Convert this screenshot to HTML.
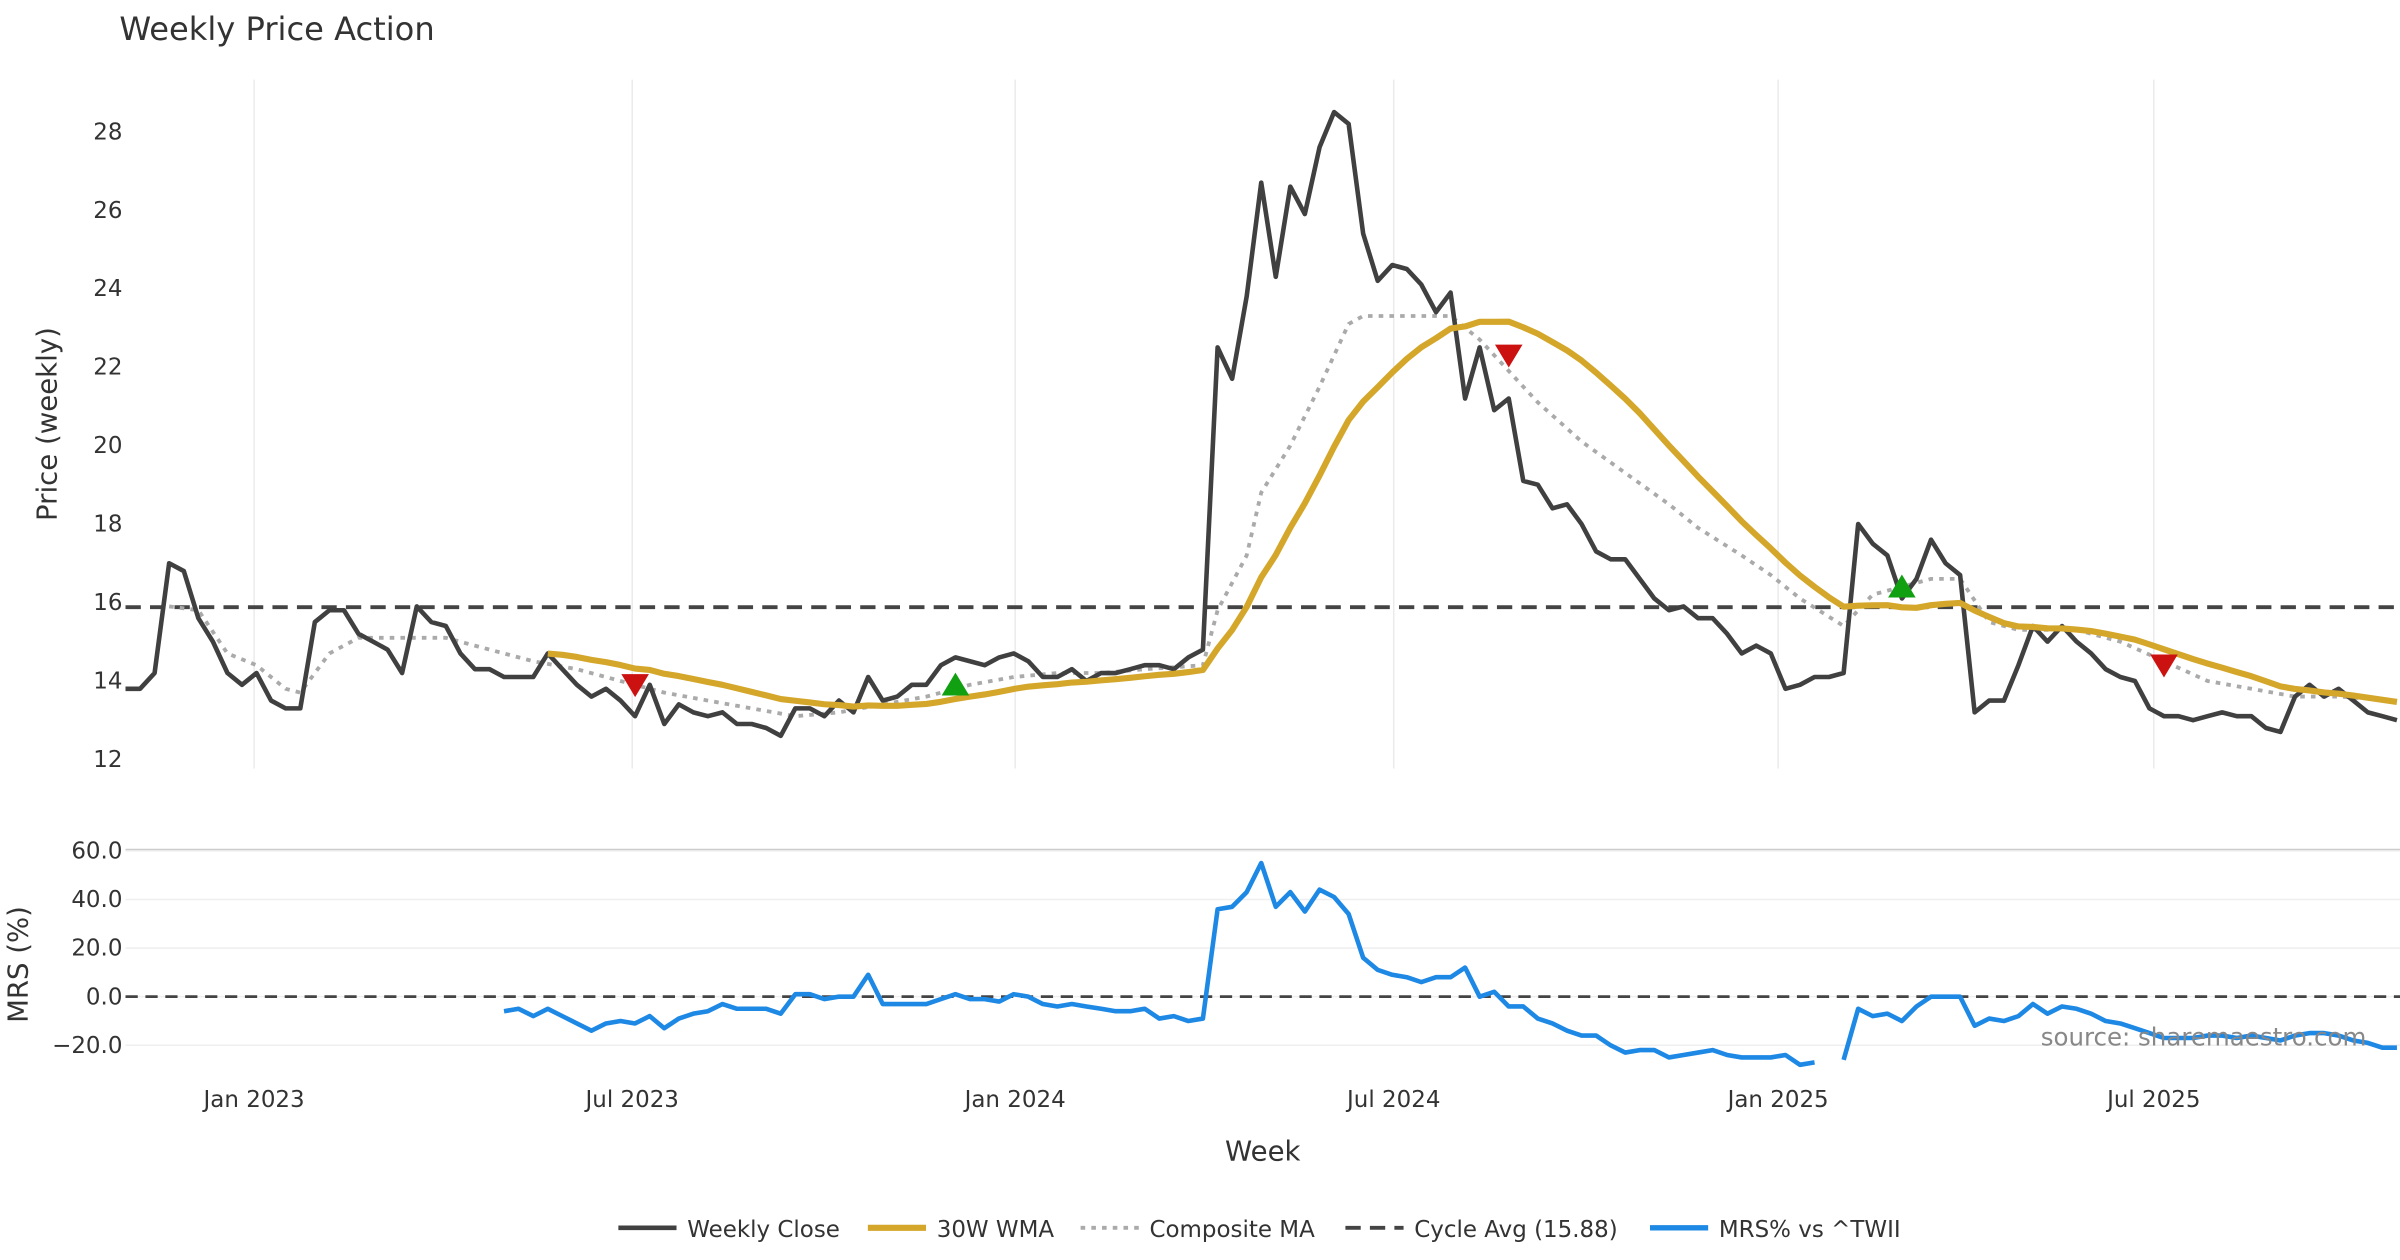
<!DOCTYPE html>
<html><head><meta charset="utf-8"><style>
html,body{margin:0;padding:0;background:#fff;}
svg{display:block;font-family:"DejaVu Sans","Liberation Sans",sans-serif;}
</style></head><body>
<svg id="chart" width="2400" height="1260" viewBox="0 0 1568 823" preserveAspectRatio="none" xmlns="http://www.w3.org/2000/svg">
<text x="78" y="26" font-size="21" fill="#333">Weekly Price Action</text>
<g id="g"></g>
</svg>
<script>
const closeVals=[13.8,13.8,14.2,17.0,16.8,15.6,15.0,14.2,13.9,14.2,13.5,13.3,13.3,15.5,15.8,15.8,15.2,15.0,14.8,14.2,15.9,15.5,15.4,14.7,14.3,14.3,14.1,14.1,14.1,14.7,14.3,13.9,13.6,13.8,13.5,13.1,13.9,12.9,13.4,13.2,13.1,13.2,12.9,12.9,12.8,12.6,13.3,13.3,13.1,13.5,13.2,14.1,13.5,13.6,13.9,13.9,14.4,14.6,14.5,14.4,14.6,14.7,14.5,14.1,14.1,14.3,14.0,14.2,14.2,14.3,14.4,14.4,14.3,14.6,14.8,22.5,21.7,23.8,26.7,24.3,26.6,25.9,27.6,28.5,28.2,25.4,24.2,24.6,24.5,24.1,23.4,23.9,21.2,22.5,20.9,21.2,19.1,19.0,18.4,18.5,18.0,17.3,17.1,17.1,16.6,16.1,15.8,15.9,15.6,15.6,15.2,14.7,14.9,14.7,13.8,13.9,14.1,14.1,14.2,18.0,17.5,17.2,16.1,16.6,17.6,17.0,16.7,13.2,13.5,13.5,14.4,15.4,15.0,15.4,15.0,14.7,14.3,14.1,14.0,13.3,13.1,13.1,13.0,13.1,13.2,13.1,13.1,12.8,12.7,13.6,13.9,13.6,13.8,13.5,13.2,13.1,13.0];
const compIdx=[3,5,7,9,11,12,14,16,19,22,25,28,31,34,37,40,43,46,49,52,55,58,61,64,67,70,74,75,77,78,80,82,84,85,87,91,93,95,97,100,103,106,108,111,113,115,118,120,122,124,126,128,130,134,137,140,143,146,149,152,156];
const compVals=[15.9,15.8,14.7,14.4,13.8,13.7,14.7,15.1,15.1,15.1,14.8,14.5,14.3,14.0,13.7,13.5,13.3,13.1,13.2,13.4,13.6,13.9,14.1,14.2,14.2,14.3,14.4,15.8,17.2,18.8,20.0,21.5,23.1,23.3,23.3,23.3,22.7,21.9,21.1,20.1,19.3,18.5,17.9,17.2,16.7,16.1,15.4,16.2,16.4,16.6,16.6,15.5,15.3,15.3,15.0,14.5,14.0,13.8,13.6,13.6,13.5];
const mrsVals=[-6,-5,-8,-5,-8,-11,-14,-11,-10,-11,-8,-13,-9,-7,-6,-3,-5,-5,-5,-7,1,1,-1,0,0,9,-3,-3,-3,-3,-1,1,-1,-1,-2,1,0,-3,-4,-3,-4,-5,-6,-6,-5,-9,-8,-10,-9,36,37,43,55,37,43,35,44,41,34,16,11,9,8,6,8,8,12,0,2,-4,-4,-9,-11,-14,-16,-16,-20,-23,-22,-22,-25,-24,-23,-22,-24,-25,-25,-25,-24,-28,-27,null,-26,-5,-8,-7,-10,-4,0,0,0,-12,-9,-10,-8,-3,-7,-4,-5,-7,-10,-11,-13,-15,-17,-17,-17,-16,-16,-17,-16,-17,-18,-16,-15,-15,-16,-18,-19,-21,-21];
const mrsStart=26;
const cycleAvg=15.88;
const wmaPeriod=30;
const downIdx=[35,95,140], downVals=[13.9,22.3,14.4];
const upIdx=[57,122], upVals=[13.9,16.4];
const xTickIdx=[8.83,34.8,61.1,87.1,113.5,139.3];
const xTickLabels=["Jan 2023","Jul 2023","Jan 2024","Jul 2024","Jan 2025","Jul 2025"];
const yTicks=[12,14,16,18,20,22,24,26,28];
const mrsTicks=[60,40,20,0,-20];

const NS="http://www.w3.org/2000/svg";
const g=document.getElementById('g');
const X0=82,X1=1566,N=closeVals.length;
const xs=i=>X0+i*(X1-X0)/(N-1);
const yp=v=>496-(v-12)*(410/16);
const ym=v=>651-v*(31.75/20);
function el(t,a,txt){const e=document.createElementNS(NS,t);for(const k in a)e.setAttribute(k,a[k]);if(txt!==undefined)e.textContent=txt;g.appendChild(e);return e;}
function pathFrom(pts){let d='',pen=false;pts.forEach(p=>{if(p==null||p[1]==null){pen=false;return;}d+=(pen?'L':'M')+p[0].toFixed(1)+','+p[1].toFixed(1);pen=true;});return d;}

xTickIdx.forEach((ix,k)=>{
  let l=el('line',{x1:xs(ix),x2:xs(ix),y1:52,y2:502,stroke:'#ebebeb','stroke-width':1});
  
  let t=el('text',{x:xs(ix),y:723,'font-size':15,fill:'#333','text-anchor':'middle'},xTickLabels[k]);
  
});
yTicks.forEach(v=>{
  let t=el('text',{x:80,y:yp(v)+5,'font-size':15,fill:'#333','text-anchor':'end'},String(v));
  
});
el('line',{x1:82,x2:1568,y1:555,y2:555,stroke:'#ccc','stroke-width':1.2});
mrsTicks.forEach(v=>{
  let l=el('line',{x1:82,x2:1568,y1:ym(v),y2:ym(v),stroke:'#efefef','stroke-width':1});
  
  let t=el('text',{x:80,y:ym(v)+5,'font-size':15,fill:'#333','text-anchor':'end'},(v<0?'\u2212'+Math.abs(v):v)+'.0');
  
});
let yt=el('text',{x:0,y:0,'font-size':18,fill:'#333','text-anchor':'middle',transform:'translate(37,277) rotate(-90)'},'Price (weekly)');

let mt=el('text',{x:0,y:0,'font-size':18,fill:'#333','text-anchor':'middle',transform:'translate(18,630) rotate(-90)'},'MRS (%)');

let xt=el('text',{x:825,y:758,'font-size':18,fill:'#333','text-anchor':'middle'},'Week');


let ca=el('line',{x1:82,x2:1568,y1:yp(cycleAvg),y2:yp(cycleAvg),stroke:'#444','stroke-width':2.5,'stroke-dasharray':'10,6'});

let cp=el('path',{d:pathFrom(compIdx.map((ix,k)=>[xs(ix),yp(compVals[k])])),fill:'none',stroke:'#aaa','stroke-width':2.5,'stroke-dasharray':'3,4'});

let cl=el('path',{d:pathFrom(closeVals.map((v,i)=>[xs(i),yp(v)])),fill:'none',stroke:'#404040','stroke-width':3,'stroke-linejoin':'round'});

const wma=closeVals.map((v,i)=>{if(i<wmaPeriod-1)return null;let s=0,w=0;for(let k=0;k<wmaPeriod;k++){const wt=wmaPeriod-k;s+=closeVals[i-k]*wt;w+=wt;}return s/w;});
let wl=el('path',{d:pathFrom(wma.map((v,i)=>v==null?null:[xs(i),yp(v)])),fill:'none',stroke:'#d4a62a','stroke-width':4,'stroke-linejoin':'round'});

downIdx.forEach((ix,k)=>{const x=xs(ix),y=yp(downVals[k]);
  let m=el('polygon',{points:`${x-9},${y-7} ${x+9},${y-7} ${x},${y+8}`,fill:'#cc1111'});
  });
upIdx.forEach((ix,k)=>{const x=xs(ix),y=yp(upVals[k]);
  let m=el('polygon',{points:`${x-9},${y+7} ${x+9},${y+7} ${x},${y-8}`,fill:'#11a011'});
  });
let z=el('line',{x1:82,x2:1568,y1:ym(0),y2:ym(0),stroke:'#444','stroke-width':1.8,'stroke-dasharray':'8,5'});

let ml=el('path',{d:pathFrom(mrsVals.map((v,k)=>v==null?null:[xs(mrsStart+k),ym(v)])),fill:'none',stroke:'#1e88e5','stroke-width':3,'stroke-linejoin':'round'});

let src=el('text',{x:1546,y:683,'font-size':16,fill:'#888','text-anchor':'end'},'source: sharemaestro.com');


const legItems=[['Weekly Close','#404040',null,3],['30W WMA','#d4a62a',null,4],['Composite MA','#aaa','3,4',2.5],['Cycle Avg (15.88)','#444','10,6',2.5],['MRS% vs ^TWII','#1e88e5',null,3.5]];
const legX=[404,567,706,879,1078];
legItems.forEach((it,k)=>{const x=legX[k];
  let l=el('line',{x1:x,x2:x+38,y1:802,y2:802,stroke:it[1],'stroke-width':it[3]});
  if(it[2])l.setAttribute('stroke-dasharray',it[2]);
  
  let t=el('text',{x:x+45,y:808,'font-size':15,fill:'#333'},it[0]);
  
});
</script>
</body></html>
